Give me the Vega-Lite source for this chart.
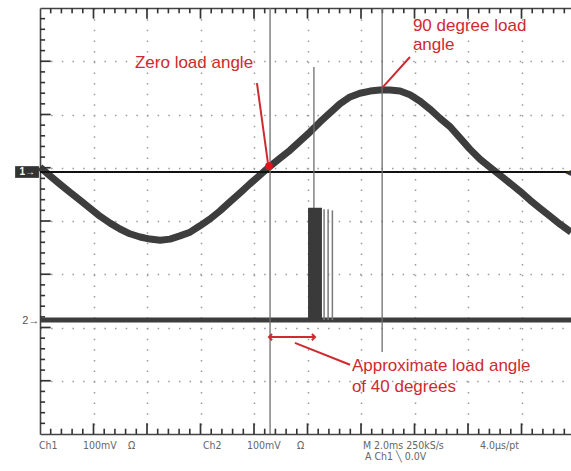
{
  "$schema": "https://vega.github.io/schema/vega-lite/v6.json",
  "width": 531,
  "height": 426,
  "autosize": {"type": "none"},
  "padding": {"left": 40, "top": 8, "right": 0, "bottom": 37},
  "background": "#ffffff",
  "config": {"view": {"stroke": null}},
  "datasets": {
    "ch1": [
      {"t": 0, "v": 1.01}, {"t": 0.37, "v": 0.85}, {"t": 0.75, "v": 0.69}, {"t": 1.12, "v": 0.54},
      {"t": 1.5, "v": 0.39}, {"t": 1.87, "v": 0.24}, {"t": 2.24, "v": 0.09}, {"t": 2.62, "v": -0.04},
      {"t": 2.99, "v": -0.15}, {"t": 3.36, "v": -0.24}, {"t": 3.74, "v": -0.3}, {"t": 4.11, "v": -0.34},
      {"t": 4.49, "v": -0.36}, {"t": 4.86, "v": -0.34}, {"t": 5.23, "v": -0.28}, {"t": 5.61, "v": -0.21},
      {"t": 5.98, "v": -0.09}, {"t": 6.36, "v": 0.04}, {"t": 6.73, "v": 0.19}, {"t": 7.1, "v": 0.36},
      {"t": 7.48, "v": 0.53}, {"t": 7.85, "v": 0.7}, {"t": 8.22, "v": 0.86}, {"t": 8.6, "v": 1.03},
      {"t": 8.97, "v": 1.18}, {"t": 9.35, "v": 1.33}, {"t": 9.72, "v": 1.5}, {"t": 10.09, "v": 1.67},
      {"t": 10.47, "v": 1.86}, {"t": 10.84, "v": 2.03}, {"t": 11.21, "v": 2.2}, {"t": 11.59, "v": 2.33},
      {"t": 11.96, "v": 2.4}, {"t": 12.34, "v": 2.44}, {"t": 12.71, "v": 2.46}, {"t": 13.08, "v": 2.46},
      {"t": 13.46, "v": 2.44}, {"t": 13.83, "v": 2.37}, {"t": 14.21, "v": 2.25}, {"t": 14.58, "v": 2.1},
      {"t": 14.95, "v": 1.93}, {"t": 15.33, "v": 1.77}, {"t": 15.7, "v": 1.56}, {"t": 16.07, "v": 1.35},
      {"t": 16.45, "v": 1.16}, {"t": 16.82, "v": 1.01}, {"t": 17.2, "v": 0.86}, {"t": 17.57, "v": 0.71},
      {"t": 17.94, "v": 0.56}, {"t": 18.32, "v": 0.39}, {"t": 18.69, "v": 0.24}, {"t": 19.07, "v": 0.09},
      {"t": 19.44, "v": -0.06}, {"t": 19.85, "v": -0.21}
    ],
    "ch2": [{"t": 0, "v": -1.86}, {"t": 19.85, "v": -1.86}],
    "burst": [{"t": 10.02, "t2": 10.54, "v": -1.86, "v2": 0.25}],
    "burstLines": [{"t": 10.62, "v": -1.86, "v2": 0.22}, {"t": 10.77, "v": -1.86, "v2": 0.22}, {"t": 10.93, "v": -1.86, "v2": 0.2}],
    "cursors": [{"t": 8.6, "v": 4, "v2": -4}, {"t": 10.24, "v": 2.89, "v2": -1.86}, {"t": 12.79, "v": 4, "v2": -2.46}],
    "ground": [{"v": 0.92}],
    "xTicks": [
      {"t": 0.4}, {"t": 0.8}, {"t": 1.2}, {"t": 1.6}, {"t": 2.4}, {"t": 2.8}, {"t": 3.2}, {"t": 3.6},
      {"t": 4.4}, {"t": 4.8}, {"t": 5.2}, {"t": 5.6}, {"t": 6.4}, {"t": 6.8}, {"t": 7.2}, {"t": 7.6},
      {"t": 8.4}, {"t": 8.8}, {"t": 9.2}, {"t": 9.6}, {"t": 10.4}, {"t": 10.8}, {"t": 11.2}, {"t": 11.6},
      {"t": 12.4}, {"t": 12.8}, {"t": 13.2}, {"t": 13.6}, {"t": 14.4}, {"t": 14.8}, {"t": 15.2}, {"t": 15.6},
      {"t": 16.4}, {"t": 16.8}, {"t": 17.2}, {"t": 17.6}, {"t": 18.4}, {"t": 18.8}, {"t": 19.2}, {"t": 19.6}
    ],
    "xMajor": [{"t": 2}, {"t": 4}, {"t": 6}, {"t": 8}, {"t": 10}, {"t": 12}, {"t": 14}, {"t": 16}, {"t": 18}],
    "yTicks": [
      {"v": -3.8}, {"v": -3.6}, {"v": -3.4}, {"v": -3.2}, {"v": -2.8}, {"v": -2.6}, {"v": -2.4}, {"v": -2.2},
      {"v": -1.8}, {"v": -1.6}, {"v": -1.4}, {"v": -1.2}, {"v": -0.8}, {"v": -0.6}, {"v": -0.4}, {"v": -0.2},
      {"v": 0.2}, {"v": 0.4}, {"v": 0.6}, {"v": 0.8}, {"v": 1.2}, {"v": 1.4}, {"v": 1.6}, {"v": 1.8},
      {"v": 2.2}, {"v": 2.4}, {"v": 2.6}, {"v": 2.8}, {"v": 3.2}, {"v": 3.4}, {"v": 3.6}, {"v": 3.8}
    ],
    "yMajor": [{"v": -3}, {"v": -2}, {"v": -1}, {"v": 0}, {"v": 1}, {"v": 2}, {"v": 3}],
    "redLines": [
      {"t": 8.11, "v": 2.59, "t2": 8.52, "v2": 1.09},
      {"t": 13.83, "v": 3.08, "t2": 12.79, "v2": 2.5},
      {"t": 9.53, "v": -2.29, "t2": 11.59, "v2": -2.7},
      {"t": 8.56, "v": -2.18, "t2": 10.28, "v2": -2.18}
    ],
    "redDot": [{"t": 8.56, "v": 1.03}],
    "arrowL": [{"t": 8.56, "v": -2.18}],
    "arrowR": [{"t": 10.28, "v": -2.18}],
    "notes": [
      {"t": 3.55, "v": 2.87, "label": "Zero load angle"},
      {"t": 13.94, "v": 3.57, "label": "90 degree load"},
      {"t": 13.94, "v": 3.21, "label": "angle"},
      {"t": 11.66, "v": -2.82, "label": "Approximate load angle"},
      {"t": 11.66, "v": -3.21, "label": "of 40 degrees"}
    ],
    "status": [
      {"t": -0.04, "v": -4.22, "label": "Ch1"},
      {"t": 1.61, "v": -4.22, "label": "100mV"},
      {"t": 3.29, "v": -4.22, "label": "Ω"},
      {"t": 6.09, "v": -4.22, "label": "Ch2"},
      {"t": 7.74, "v": -4.22, "label": "100mV"},
      {"t": 9.61, "v": -4.22, "label": "Ω"},
      {"t": 12.07, "v": -4.22, "label": "M 2.0ms 250kS/s"},
      {"t": 16.45, "v": -4.22, "label": "4.0µs/pt"},
      {"t": 12.15, "v": -4.44, "label": "A Ch1 ╲ 0.0V"}
    ],
    "box1": [{"t": -0.93, "t2": -0.04, "v": 1.03, "v2": 0.81}],
    "mark1": [{"t": -0.48, "v": 0.92, "label": "1→"}],
    "mark2": [{"t": -0.02, "v": -1.88, "label": "2→"}],
    "mark3": [{"t": 19.85, "v": 0.92, "label": "◂"}]
  },
  "layer": [
    {
      "data": {"name": "ch1"},
      "mark": {"type": "line", "color": "#3d3d3d", "strokeWidth": 7, "strokeJoin": "round"},
      "encoding": {
        "x": {"field": "t", "type": "quantitative", "scale": {"domain": [0, 19.85], "nice": false, "zero": false},
          "axis": {"orient": "bottom", "title": null, "labels": false, "ticks": false,
            "values": [2,4,6,8,10,12,14,16,18],
            "domain": true, "domainColor": "#444444", "domainWidth": 1.6,
            "grid": true, "gridColor": "#9a9a9a", "gridWidth": 1.5, "gridDash": [1.5, 9.15]}},
        "y": {"field": "v", "type": "quantitative", "scale": {"domain": [-4, 4], "nice": false, "zero": false},
          "axis": {"orient": "left", "title": null, "labels": false, "ticks": false,
            "values": [-3,-2,-1,0,1,2,3],
            "domain": true, "domainColor": "#444444", "domainWidth": 1.6,
            "grid": true, "gridColor": "#9a9a9a", "gridWidth": 1.5, "gridDash": [1.5, 9.15]}}
      }
    },
    {
      "data": {"name": "ch2"},
      "mark": {"type": "line", "color": "#3d3d3d", "strokeWidth": 5},
      "encoding": {
        "x": {"field": "t", "type": "quantitative", "scale": {"domain": [0, 19.85], "nice": false, "zero": false},
          "axis": {"orient": "top", "title": null, "labels": false, "ticks": false,
            "domain": true, "domainColor": "#444444", "domainWidth": 1.6, "grid": false}},
        "y": {"field": "v", "type": "quantitative", "scale": {"domain": [-4, 4], "nice": false, "zero": false}, "axis": null}
      }
    },
    {
      "data": {"name": "xTicks"},
      "mark": {"type": "rule", "color": "#333333", "strokeWidth": 1.6},
      "encoding": {
        "x": {"field": "t", "type": "quantitative", "scale": {"domain": [0, 19.85], "nice": false, "zero": false}, "axis": null},
        "y": {"datum": -4, "type": "quantitative", "scale": {"domain": [-4, 4], "nice": false, "zero": false}, "axis": null},
        "y2": {"datum": -3.9}
      }
    },
    {
      "data": {"name": "xTicks"},
      "mark": {"type": "rule", "color": "#333333", "strokeWidth": 1.6},
      "encoding": {
        "x": {"field": "t", "type": "quantitative", "scale": {"domain": [0, 19.85], "nice": false, "zero": false}, "axis": null},
        "y": {"datum": 4, "type": "quantitative", "scale": {"domain": [-4, 4], "nice": false, "zero": false}, "axis": null},
        "y2": {"datum": 3.9}
      }
    },
    {
      "data": {"name": "xMajor"},
      "mark": {"type": "rule", "color": "#333333", "strokeWidth": 1.7},
      "encoding": {
        "x": {"field": "t", "type": "quantitative", "scale": {"domain": [0, 19.85], "nice": false, "zero": false}, "axis": null},
        "y": {"datum": -4, "type": "quantitative", "scale": {"domain": [-4, 4], "nice": false, "zero": false}, "axis": null},
        "y2": {"datum": -3.8}
      }
    },
    {
      "data": {"name": "xMajor"},
      "mark": {"type": "rule", "color": "#333333", "strokeWidth": 1.7},
      "encoding": {
        "x": {"field": "t", "type": "quantitative", "scale": {"domain": [0, 19.85], "nice": false, "zero": false}, "axis": null},
        "y": {"datum": 4, "type": "quantitative", "scale": {"domain": [-4, 4], "nice": false, "zero": false}, "axis": null},
        "y2": {"datum": 3.8}
      }
    },
    {
      "data": {"name": "yTicks"},
      "mark": {"type": "rule", "color": "#333333", "strokeWidth": 1.6},
      "encoding": {
        "y": {"field": "v", "type": "quantitative", "scale": {"domain": [-4, 4], "nice": false, "zero": false}, "axis": null},
        "x": {"datum": 0, "type": "quantitative", "scale": {"domain": [0, 19.85], "nice": false, "zero": false}, "axis": null},
        "x2": {"datum": 0.19}
      }
    },
    {
      "data": {"name": "yMajor"},
      "mark": {"type": "rule", "color": "#333333", "strokeWidth": 1.7},
      "encoding": {
        "y": {"field": "v", "type": "quantitative", "scale": {"domain": [-4, 4], "nice": false, "zero": false}, "axis": null},
        "x": {"datum": 0, "type": "quantitative", "scale": {"domain": [0, 19.85], "nice": false, "zero": false}, "axis": null},
        "x2": {"datum": 0.4}
      }
    },
    {
      "data": {"name": "ground"},
      "mark": {"type": "rule", "color": "#111111", "strokeWidth": 2},
      "encoding": {
        "y": {"field": "v", "type": "quantitative", "scale": {"domain": [-4, 4], "nice": false, "zero": false}, "axis": null}
      }
    },
    {
      "data": {"name": "cursors"},
      "mark": {"type": "rule", "color": "#6e6e6e", "strokeWidth": 1.3},
      "encoding": {
        "x": {"field": "t", "type": "quantitative", "scale": {"domain": [0, 19.85], "nice": false, "zero": false}, "axis": null},
        "y": {"field": "v", "type": "quantitative", "scale": {"domain": [-4, 4], "nice": false, "zero": false}, "axis": null},
        "y2": {"field": "v2"}
      }
    },
    {
      "data": {"name": "burst"},
      "mark": {"type": "rect", "color": "#3a3a3a"},
      "encoding": {
        "x": {"field": "t", "type": "quantitative", "scale": {"domain": [0, 19.85], "nice": false, "zero": false}, "axis": null},
        "x2": {"field": "t2"},
        "y": {"field": "v", "type": "quantitative", "scale": {"domain": [-4, 4], "nice": false, "zero": false}, "axis": null},
        "y2": {"field": "v2"}
      }
    },
    {
      "data": {"name": "burstLines"},
      "mark": {"type": "rule", "color": "#7a7a7a", "strokeWidth": 1.5},
      "encoding": {
        "x": {"field": "t", "type": "quantitative", "scale": {"domain": [0, 19.85], "nice": false, "zero": false}, "axis": null},
        "y": {"field": "v", "type": "quantitative", "scale": {"domain": [-4, 4], "nice": false, "zero": false}, "axis": null},
        "y2": {"field": "v2"}
      }
    },
    {
      "data": {"name": "redLines"},
      "mark": {"type": "rule", "color": "#cf2a30", "strokeWidth": 2},
      "encoding": {
        "x": {"field": "t", "type": "quantitative", "scale": {"domain": [0, 19.85], "nice": false, "zero": false}, "axis": null},
        "x2": {"field": "t2"},
        "y": {"field": "v", "type": "quantitative", "scale": {"domain": [-4, 4], "nice": false, "zero": false}, "axis": null},
        "y2": {"field": "v2"}
      }
    },
    {
      "data": {"name": "redDot"},
      "mark": {"type": "circle", "color": "#e0141e", "size": 60, "opacity": 1},
      "encoding": {
        "x": {"field": "t", "type": "quantitative", "scale": {"domain": [0, 19.85], "nice": false, "zero": false}, "axis": null},
        "y": {"field": "v", "type": "quantitative", "scale": {"domain": [-4, 4], "nice": false, "zero": false}, "axis": null}
      }
    },
    {
      "data": {"name": "arrowL"},
      "mark": {"type": "point", "shape": "M0.8,-0.8L0,0L0.8,0.8", "filled": false, "stroke": "#cf2a30", "strokeWidth": 2, "size": 60, "opacity": 1},
      "encoding": {
        "x": {"field": "t", "type": "quantitative", "scale": {"domain": [0, 19.85], "nice": false, "zero": false}, "axis": null},
        "y": {"field": "v", "type": "quantitative", "scale": {"domain": [-4, 4], "nice": false, "zero": false}, "axis": null}
      }
    },
    {
      "data": {"name": "arrowR"},
      "mark": {"type": "point", "shape": "M-0.8,-0.8L0,0L-0.8,0.8", "filled": false, "stroke": "#cf2a30", "strokeWidth": 2, "size": 60, "opacity": 1},
      "encoding": {
        "x": {"field": "t", "type": "quantitative", "scale": {"domain": [0, 19.85], "nice": false, "zero": false}, "axis": null},
        "y": {"field": "v", "type": "quantitative", "scale": {"domain": [-4, 4], "nice": false, "zero": false}, "axis": null}
      }
    },
    {
      "data": {"name": "notes"},
      "mark": {"type": "text", "color": "#cf2a30", "font": "Liberation Sans", "fontSize": 17, "align": "left", "baseline": "alphabetic"},
      "encoding": {
        "x": {"field": "t", "type": "quantitative", "scale": {"domain": [0, 19.85], "nice": false, "zero": false}, "axis": null},
        "y": {"field": "v", "type": "quantitative", "scale": {"domain": [-4, 4], "nice": false, "zero": false}, "axis": null},
        "text": {"field": "label"}
      }
    },
    {
      "data": {"name": "status"},
      "mark": {"type": "text", "color": "#666666", "font": "Liberation Sans Narrow, DejaVu Sans Condensed, Liberation Sans", "fontSize": 10.5, "align": "left", "baseline": "middle"},
      "encoding": {
        "x": {"field": "t", "type": "quantitative", "scale": {"domain": [0, 19.85], "nice": false, "zero": false}, "axis": null},
        "y": {"field": "v", "type": "quantitative", "scale": {"domain": [-4, 4], "nice": false, "zero": false}, "axis": null},
        "text": {"field": "label"}
      }
    },
    {
      "data": {"name": "box1"},
      "mark": {"type": "rect", "color": "#333333"},
      "encoding": {
        "x": {"field": "t", "type": "quantitative", "scale": {"domain": [0, 19.85], "nice": false, "zero": false}, "axis": null},
        "x2": {"field": "t2"},
        "y": {"field": "v", "type": "quantitative", "scale": {"domain": [-4, 4], "nice": false, "zero": false}, "axis": null},
        "y2": {"field": "v2"}
      }
    },
    {
      "data": {"name": "mark1"},
      "mark": {"type": "text", "color": "#ffffff", "font": "Liberation Sans", "fontSize": 10, "fontWeight": "bold", "align": "center", "baseline": "middle"},
      "encoding": {
        "x": {"field": "t", "type": "quantitative", "scale": {"domain": [0, 19.85], "nice": false, "zero": false}, "axis": null},
        "y": {"field": "v", "type": "quantitative", "scale": {"domain": [-4, 4], "nice": false, "zero": false}, "axis": null},
        "text": {"field": "label"}
      }
    },
    {
      "data": {"name": "mark2"},
      "mark": {"type": "text", "color": "#555555", "font": "Liberation Sans", "fontSize": 11, "align": "right", "baseline": "middle"},
      "encoding": {
        "x": {"field": "t", "type": "quantitative", "scale": {"domain": [0, 19.85], "nice": false, "zero": false}, "axis": null},
        "y": {"field": "v", "type": "quantitative", "scale": {"domain": [-4, 4], "nice": false, "zero": false}, "axis": null},
        "text": {"field": "label"}
      }
    },
    {
      "data": {"name": "mark3"},
      "mark": {"type": "text", "color": "#333333", "font": "DejaVu Sans", "fontSize": 12, "align": "right", "baseline": "middle"},
      "encoding": {
        "x": {"field": "t", "type": "quantitative", "scale": {"domain": [0, 19.85], "nice": false, "zero": false}, "axis": null},
        "y": {"field": "v", "type": "quantitative", "scale": {"domain": [-4, 4], "nice": false, "zero": false}, "axis": null},
        "text": {"field": "label"}
      }
    }
  ],
  "resolve": {"axis": {"x": "independent", "y": "independent"}}
}
